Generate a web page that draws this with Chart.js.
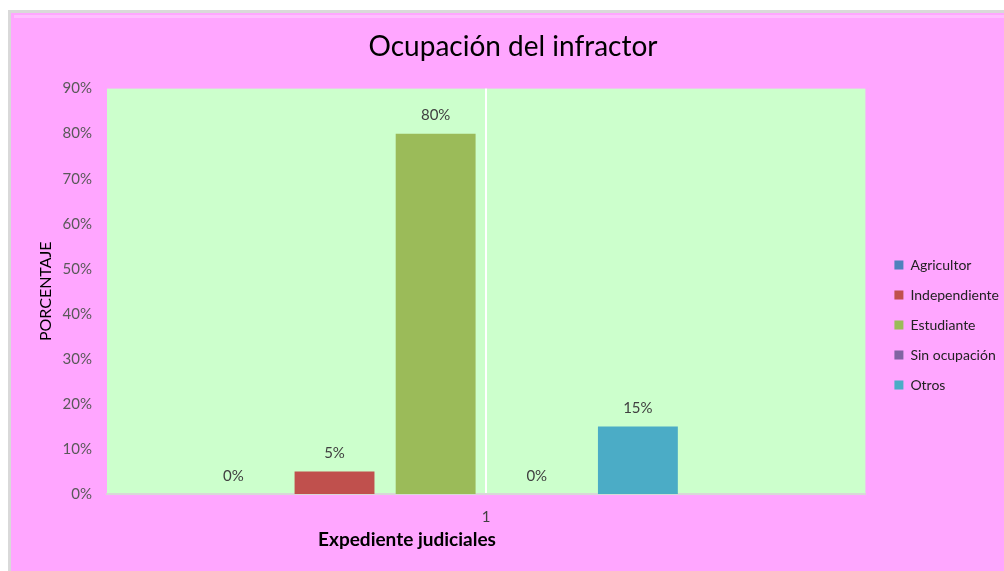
<!DOCTYPE html>
<html><head><meta charset="utf-8">
<script src="https://cdn.jsdelivr.net/npm/chart.js@4.4.1/dist/chart.umd.min.js"></script>
<style>html,body{margin:0;padding:0;background:#fff;}#wrap{width:1004px;height:571px;}</style>
</head><body><div id="wrap"><canvas id="c" width="1004" height="571"></canvas></div>
<script>
const categories = ['1'];
const seriesNames = ['Agricultor','Independiente','Estudiante','Sin ocupación','Otros'];
const seriesValues = [[0],[5],[80],[0],[15]];
const seriesColors = ['#4F81BD','#C0504D','#9BBB59','#8064A2','#4BACC6'];
const yTicks = [0,10,20,30,40,50,60,70,80,90];
const titleText = 'Ocupación del infractor';
const xTitle = 'Expediente judiciales';
const yTitle = 'PORCENTAJE';
const FONT = 'Lato, "Open Sans", sans-serif';

const datasets = seriesNames.map((n,i)=>({label:n,data:seriesValues[i],backgroundColor:seriesColors[i],borderWidth:0}));
datasets.push({label:'',data:[null],backgroundColor:'rgba(0,0,0,0)'});

const bgPlugin = {
  id:'bg',
  afterLayout(chart){
    if(chart.legend){ chart.legend.left += 13; chart.legend.right += 13; }
  },
  beforeDraw(chart){
    const {ctx, chartArea:a} = chart;
    ctx.save();
    ctx.fillStyle='#ffffff'; ctx.fillRect(0,0,chart.width,chart.height);
    ctx.fillStyle='#d9d9d9'; ctx.fillRect(8,10,chart.width-8,chart.height-10);
    ctx.fillStyle='#FFA6FF'; ctx.fillRect(11,13,chart.width-11,chart.height-13);
    ctx.fillStyle='#FFBEFF'; ctx.fillRect(14,15,chart.width-14,3);
    ctx.fillStyle='#CCFFCC'; ctx.fillRect(a.left,a.top,a.right-a.left,a.bottom-a.top);
    ctx.restore();
  },
  afterDraw(chart){
    const {ctx} = chart;
    ctx.save();
    ctx.font = 'bold 19px '+FONT;
    ctx.fillStyle='#000'; ctx.textAlign='center'; ctx.textBaseline='middle';
    ctx.fillText(xTitle, 407, 540);
    ctx.restore();
  }
};
const labelPlugin = {
  id:'vals',
  afterDatasetsDraw(chart){
    const ctx = chart.ctx;
    ctx.save();
    ctx.font = '15px '+FONT; ctx.fillStyle='#404040'; ctx.textAlign='center'; ctx.textBaseline='middle';
    chart.data.datasets.forEach((ds,i)=>{
      if(!ds.label) return;
      const meta = chart.getDatasetMeta(i);
      meta.data.forEach((bar,j)=>{
        const v = ds.data[j];
        if(v===null) return;
        ctx.fillText(v+'%', bar.x, bar.y-18);
      });
    });
    ctx.restore();
  }
};

new Chart(document.getElementById('c'),{
  type:'bar',
  data:{labels:categories,datasets},
  options:{
    responsive:false, animation:false,
    layout:{padding:{left:30,right:8,top:0,bottom:31}},
    datasets:{bar:{categoryPercentage:0.8,barPercentage:0.79}},
    plugins:{
      title:{display:true,text:titleText,color:'#000',font:{family:FONT,size:28,weight:'normal'},padding:{top:30,bottom:25}},
      legend:{position:'right',align:'center',
        labels:{filter:(it)=>it.text!=='',boxWidth:9,boxHeight:9,padding:16,color:'#222',font:{family:FONT,size:14}},
        title:{display:true,text:' ',padding:{top:73,bottom:30},font:{size:6}}},
      tooltip:{enabled:false}
    },
    scales:{
      x:{grid:{display:true,offset:false,color:'#ffffff',lineWidth:2,drawTicks:false},
         border:{display:true,color:'#d8d8d8',width:2},
         ticks:{color:'#404040',font:{family:FONT,size:15},padding:14}},
      y:{min:0,max:90,
         afterBuildTicks(s){s.ticks=yTicks.map(v=>({value:v}));},
         afterFit(s){s.width=77;},
         grid:{display:false,drawTicks:false},border:{display:false},
         ticks:{callback:v=>v+'%',color:'#595959',font:{family:FONT,size:15},padding:15},
         title:{display:true,text:yTitle,color:'#000',font:{family:FONT,size:16},padding:{top:6,bottom:0}}}
    }
  },
  plugins:[bgPlugin,labelPlugin]
});
</script></body></html>
